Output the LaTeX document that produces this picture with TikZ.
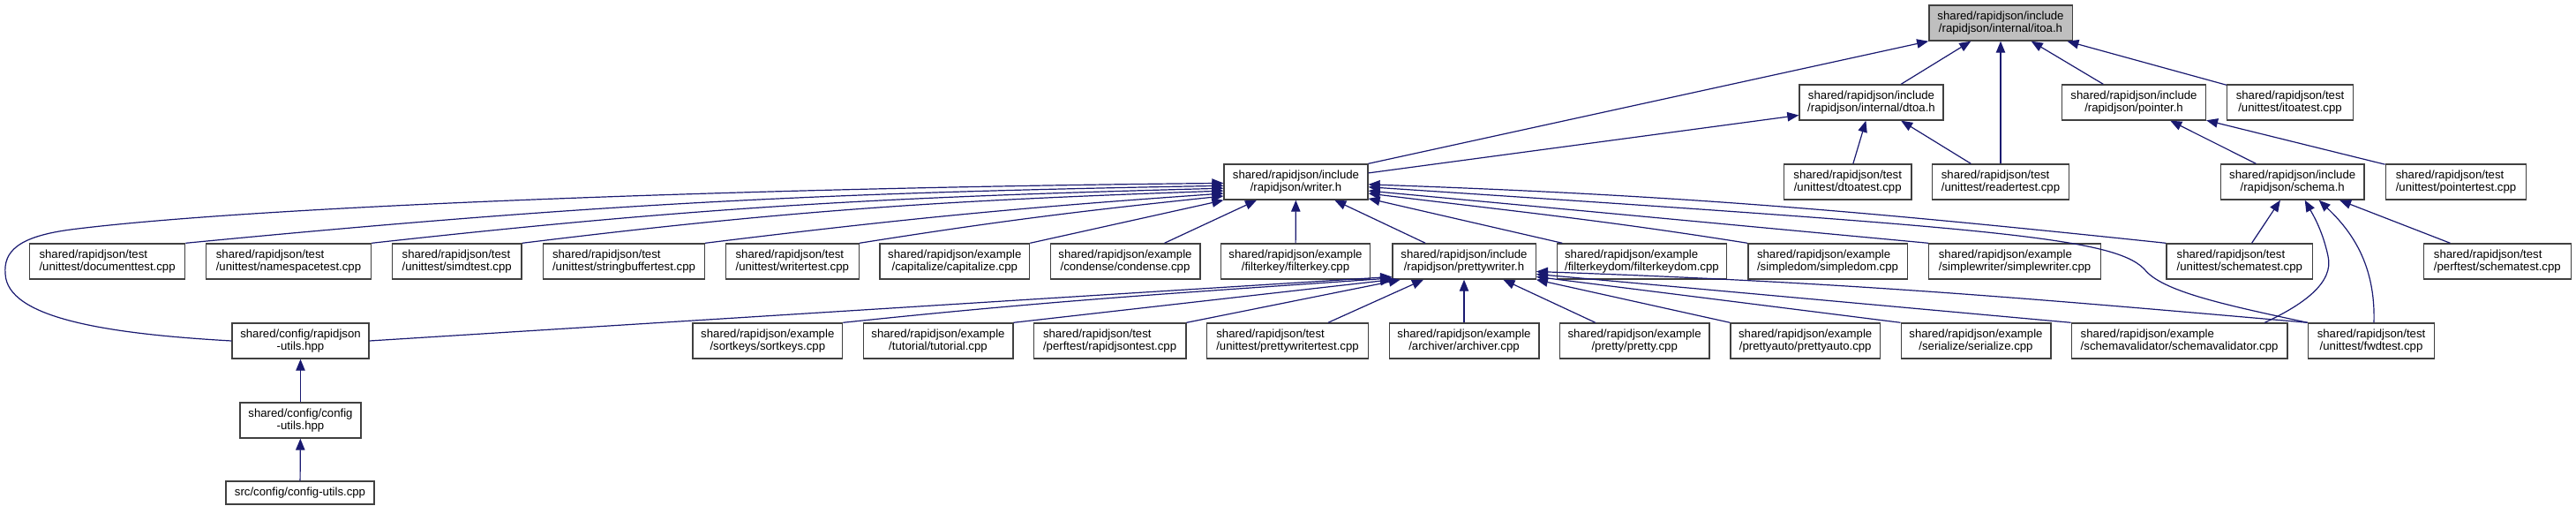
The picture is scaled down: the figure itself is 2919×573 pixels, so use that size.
\documentclass[tikz,border=0pt]{standalone}
\usepackage{fontspec}
\setmainfont{Liberation Sans}
\usepackage{tikz}
\usetikzlibrary{arrows.meta}

\definecolor{edgeblue}{HTML}{191970}
\definecolor{boxgray}{HTML}{404040}
\definecolor{itoagray}{HTML}{BFBFBF}

\begin{document}
\begin{tikzpicture}[x=0.5pt, y=0.5pt,
        file/.style={draw=boxgray, line width=0.7pt, fill=white, align=center,
            font=\fontsize{6.6}{7.3}\selectfont, inner xsep=2pt, inner ysep=0pt,
            minimum height=20pt},
        lfile/.style={file, align=left},
        onefile/.style={file, minimum height=13pt},
        current/.style={file, fill=itoagray},
        inc/.style={draw=edgeblue, line width=0.6pt,
            -{Triangle[length=6.5pt, width=5.2pt]}}]

    \useasboundingbox[fill=white] (0,0) rectangle (2919,-573);

    % Rank heights
    \def\ya{-26}
    \def\yb{-116}
    \def\yc{-206}
    \def\yd{-296}
    \def\ye{-386}
    \def\yf{-476}
    \def\yg{-558}

    % The file itself
    \node[current, minimum width=81.2pt] (itoa) at (2267,\ya) {shared/rapidjson/include\\/rapidjson/internal/itoa.h};

    % Rank 1
    \node[file, minimum width=81.5pt] (dtoa) at (2120.5,\yb) {shared/rapidjson/include\\/rapidjson/internal/dtoa.h};
    \node[file, minimum width=81.4pt] (pointer) at (2418,\yb) {shared/rapidjson/include\\/rapidjson/pointer.h};
    \node[file, minimum width=71.3pt] (itoatest) at (2595,\yb) {shared/rapidjson/test\\/unittest/itoatest.cpp};

    % Rank 2
    \node[file, minimum width=81.4pt] (writer) at (1468.5,\yc) {shared/rapidjson/include\\/rapidjson/writer.h};
    \node[file, minimum width=72.1pt] (dtoatest) at (2093.7,\yc) {shared/rapidjson/test\\/unittest/dtoatest.cpp};
    \node[lfile, minimum width=77.4pt] (readertest) at (2267,\yc) {shared/rapidjson/test\\/unittest/readertest.cpp};
    \node[file, minimum width=81.4pt] (schema) at (2597.7,\yc) {shared/rapidjson/include\\/rapidjson/schema.h};
    \node[lfile, minimum width=79.7pt] (pointertest) at (2783,\yc) {shared/rapidjson/test\\/unittest/pointertest.cpp};

    % Rank 3
    \node[lfile, minimum width=88.1pt] (doctest) at (121.6,\yd) {shared/rapidjson/test\\/unittest/documenttest.cpp};
    \node[lfile, minimum width=93.5pt] (nstest) at (327,\yd) {shared/rapidjson/test\\/unittest/namespacetest.cpp};
    \node[lfile, minimum width=73.4pt] (simdtest) at (517.7,\yd) {shared/rapidjson/test\\/unittest/simdtest.cpp};
    \node[lfile, minimum width=91.4pt] (sbtest) at (707,\yd) {shared/rapidjson/test\\/unittest/stringbuffertest.cpp};
    \node[lfile, minimum width=75.4pt] (wrtest) at (897.8,\yd) {shared/rapidjson/test\\/unittest/writertest.cpp};
    \node[file, minimum width=84.8pt] (capitalize) at (1081.8,\yd) {shared/rapidjson/example\\/capitalize/capitalize.cpp};
    \node[file, minimum width=84.8pt] (condense) at (1275,\yd) {shared/rapidjson/example\\/condense/condense.cpp};
    \node[file, minimum width=84.7pt] (filterkey) at (1468,\yd) {shared/rapidjson/example\\/filterkey/filterkey.cpp};
    \node[file, minimum width=81.2pt] (pwriter) at (1659,\yd) {shared/rapidjson/include\\/rapidjson/prettywriter.h};
    \node[lfile, minimum width=96.1pt] (fkdom) at (1860.4,\yd) {shared/rapidjson/example\\/filterkeydom/filterkeydom.cpp};
    \node[lfile, minimum width=90.2pt] (simpledom) at (2071,\yd) {shared/rapidjson/example\\/simpledom/simpledom.cpp};
    \node[lfile, minimum width=97.3pt] (simplewriter) at (2283,\yd) {shared/rapidjson/example\\/simplewriter/simplewriter.cpp};
    \node[lfile, minimum width=82.9pt] (schematest) at (2537.8,\yd) {shared/rapidjson/test\\/unittest/schematest.cpp};
    \node[lfile, minimum width=83.6pt] (perfschema) at (2829.8,\yd) {shared/rapidjson/test\\/perftest/schematest.cpp};

    % Rank 4
    \node[file, minimum width=77.5pt] (rjutils) at (340.5,\ye) {shared/config/rapidjson\\-utils.hpp};
    \node[file, minimum width=84.8pt] (sortkeys) at (869.8,\ye) {shared/rapidjson/example\\/sortkeys/sortkeys.cpp};
    \node[file, minimum width=84.8pt] (tutorial) at (1063,\ye) {shared/rapidjson/example\\/tutorial/tutorial.cpp};
    \node[lfile, minimum width=86.2pt] (rjtest) at (1257.6,\ye) {shared/rapidjson/test\\/perftest/rapidjsontest.cpp};
    \node[lfile, minimum width=91.5pt] (pwtest) at (1459,\ye) {shared/rapidjson/test\\/unittest/prettywritertest.cpp};
    \node[file, minimum width=84.8pt] (archiver) at (1659,\ye) {shared/rapidjson/example\\/archiver/archiver.cpp};
    \node[file, minimum width=84.9pt] (pretty) at (1852.2,\ye) {shared/rapidjson/example\\/pretty/pretty.cpp};
    \node[file, minimum width=84.7pt] (prettyauto) at (2045.7,\ye) {shared/rapidjson/example\\/prettyauto/prettyauto.cpp};
    \node[file, minimum width=84.8pt] (serialize) at (2239,\ye) {shared/rapidjson/example\\/serialize/serialize.cpp};
    \node[lfile, minimum width=122.4pt] (schemaval) at (2469.6,\ye) {shared/rapidjson/example\\/schemavalidator/schemavalidator.cpp};
    \node[file, minimum width=71.6pt] (fwdtest) at (2687,\ye) {shared/rapidjson/test\\/unittest/fwdtest.cpp};

    % Rank 5 and 6
    \node[file, minimum width=68.5pt] (cfgutils) at (340.5,\yf) {shared/config/config\\-utils.hpp};
    \node[onefile, minimum width=84pt] (cfgcpp) at (340,\yg) {src/config/config-utils.cpp};

    % Includes of itoa.h
    \draw[inc] (writer.north east) -- (itoa.south west);
    \draw[inc] (dtoa) -- (itoa);
    \draw[inc] (readertest) -- (itoa);
    \draw[inc] (pointer) -- (itoa);
    \draw[inc] (itoatest) -- (itoa);

    % Includes of dtoa.h
    \draw[inc] (writer.7) -- (dtoa.190);
    \draw[inc] (dtoatest) -- (dtoa);
    \draw[inc] (readertest) -- (dtoa);

    % Includes of pointer.h
    \draw[inc] (schema) -- (pointer);
    \draw[inc] (pointertest) -- (pointer);

    % Includes of writer.h
    \draw[inc] (rjutils.west) .. controls (120,-378) and (8,-360) .. (6,-310)
        .. controls (4,-285) and (20,-268) .. (80,-260)
        .. controls (300,-232) and (900,-212) .. (writer.181.4);
    \draw[inc] (doctest.north east) to[out=5.5, in=181] (writer.183.5);
    \draw[inc] (nstest.north east) to[out=6.3, in=181.5] (writer.185.6);
    \draw[inc] (simdtest.north east) to[out=7, in=182] (writer.187.7);
    \draw[inc] (sbtest.north east) to[out=7, in=184] (writer.189.8);
    \draw[inc] (wrtest.north east) to[out=9, in=186] (writer.191.8);
    \draw[inc] (capitalize.north east) -- (writer.south west);
    \draw[inc] (condense) -- (writer);
    \draw[inc] (filterkey) -- (writer);
    \draw[inc] (pwriter) -- (writer);
    \draw[inc] (fkdom) -- (writer);
    \draw[inc] (simpledom.north west) to[out=171, in=-7] (writer.-9.8);
    \draw[inc] (simplewriter.north west) -- (writer.-7);
    \draw[inc] (schematest.north west) to[out=174, in=-2] (writer.-2.1);
    \draw[inc] (fwdtest.north west) .. controls (2520,-345) and (2450,-330) .. (2430,-305)
        .. controls (2395,-268) and (2250,-258) .. (writer.-4.2);

    % Includes of schema.h
    \draw[inc] (schematest) -- (schema);
    \draw[inc] (perfschema) -- (schema);
    \draw[inc] ([xshift=48.3pt]schemaval.north) .. controls (2610,-345) and (2645,-320) .. (2638,-290)
        .. controls (2632,-262) and (2622,-245) .. ([xshift=7pt]schema.south);
    \draw[inc] ([xshift=1.5pt]fwdtest.north) .. controls (2692,-300) and (2665,-262) .. ([xshift=15pt]schema.south);

    % Includes of prettywriter.h
    \draw[inc] (rjutils.east) -- (pwriter.192);
    \draw[inc] (sortkeys.north east) to[out=6, in=184] (pwriter.193.5);
    \draw[inc] (tutorial.north east) -- (pwriter.south west);
    \draw[inc] (rjtest.north east) -- (pwriter.196);
    \draw[inc] (pwtest) -- (pwriter);
    \draw[inc] (archiver) -- (pwriter);
    \draw[inc] (pretty) -- (pwriter);
    \draw[inc] (prettyauto.north west) -- (pwriter.south east);
    \draw[inc] (serialize.north west) -- (pwriter.-12);
    \draw[inc] (schemaval.north west) -- (pwriter.-10);
    \draw[inc] (fwdtest.north west) to[out=175, in=-2] (pwriter.-8);

    % Config headers
    \draw[inc] (cfgutils) -- (rjutils);
    \draw[inc] (cfgcpp) -- (cfgutils);
\end{tikzpicture}
\end{document}
